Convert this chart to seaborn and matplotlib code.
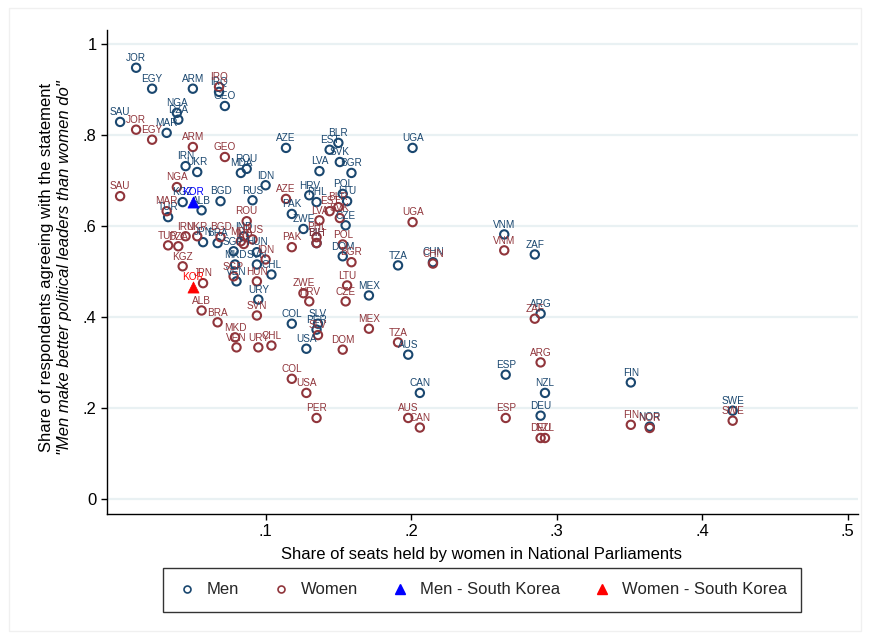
import matplotlib
matplotlib.use("Agg")
import matplotlib.pyplot as plt
import pandas as pd
import seaborn as sns
from matplotlib.lines import Line2D
from matplotlib.patches import Rectangle

# Country codes, share of parliamentary seats held by women, and share of
# men / women agreeing that men make better political leaders
countries = ["JOR", "EGY", "ARM", "IRQ", "GEO", "SAU", "NGA", "DZA", "MAR", "IRN",
             "UKR", "ROU", "MDA", "KGZ", "ALB", "BGD", "RUS", "TUR", "JPN", "BRA",
             "SGP", "MKD", "VEN", "IDN", "HUN", "IND", "CHL", "URY", "SVN", "AZE",
             "PAK", "ZWE", "HRV", "PHL", "BIH", "LVA", "EST", "BLR", "SVK", "BGR",
             "POL", "LTU", "CZE", "DOM", "MEX", "COL", "USA", "PER", "SLV", "UGA",
             "TZA", "CHN", "AUS", "CAN", "VNM", "ZAF", "ARG", "ESP", "NZL", "DEU",
             "FIN", "NOR", "SWE"]
seat_share = [0.011, 0.022, 0.050, 0.068, 0.072, 0.000, 0.039, 0.040, 0.032, 0.045,
              0.053, 0.087, 0.083, 0.043, 0.056, 0.069, 0.091, 0.033, 0.057, 0.067,
              0.078, 0.079, 0.080, 0.100, 0.094, 0.085, 0.104, 0.095, 0.094, 0.114,
              0.118, 0.126, 0.130, 0.135, 0.135, 0.137, 0.144, 0.150, 0.151, 0.159,
              0.153, 0.156, 0.155, 0.153, 0.171, 0.118, 0.128, 0.135, 0.136, 0.201,
              0.191, 0.215, 0.198, 0.206, 0.264, 0.285, 0.289, 0.265, 0.292, 0.289,
              0.351, 0.364, 0.421]
men_agree = [0.947, 0.901, 0.901, 0.894, 0.863, 0.828, 0.848, 0.833, 0.804, 0.731,
             0.718, 0.725, 0.716, 0.652, 0.634, 0.654, 0.656, 0.619, 0.564, 0.562,
             0.544, 0.515, 0.478, 0.689, 0.542, 0.577, 0.493, 0.438, 0.515, 0.771,
             0.626, 0.593, 0.667, 0.652, 0.562, 0.720, 0.767, 0.782, 0.740, 0.716,
             0.670, 0.654, 0.601, 0.533, 0.447, 0.385, 0.330, 0.372, 0.385, 0.771,
             0.513, 0.520, 0.317, 0.233, 0.581, 0.537, 0.407, 0.273, 0.233, 0.183,
             0.256, 0.159, 0.194]
women_agree = [0.811, 0.789, 0.773, 0.905, 0.751, 0.665, 0.685, 0.555, 0.632, 0.577,
               0.577, 0.610, 0.566, 0.511, 0.414, 0.575, 0.570, 0.557, 0.474, 0.388,
               0.489, 0.355, 0.333, 0.526, 0.478, 0.560, 0.337, 0.333, 0.403, 0.659,
               0.553, 0.452, 0.434, 0.575, 0.562, 0.612, 0.632, 0.641, 0.617, 0.520,
               0.559, 0.469, 0.434, 0.328, 0.374, 0.264, 0.233, 0.178, 0.360, 0.608,
               0.344, 0.517, 0.178, 0.157, 0.546, 0.396, 0.300, 0.178, 0.134, 0.134,
               0.163, 0.156, 0.172]

# South Korea, highlighted separately
kor_code = "KOR"
kor_seat_share = 0.050
kor_men = 0.652
kor_women = 0.465

MEN_COLOR = "#1a476f"
WOMEN_COLOR = "#90353b"
GRID_COLOR = "#e9f1f3"

sns.set_theme(style="white")
plt.rcParams["font.family"] = ["Liberation Sans", "DejaVu Sans"]

n = len(countries)
df = pd.DataFrame({
    "iso": countries * 2,
    "seats": seat_share * 2,
    "share": men_agree + women_agree,
    "group": ["Men"] * n + ["Women"] * n,
})
kor = pd.DataFrame({
    "iso": [kor_code, kor_code],
    "seats": [kor_seat_share, kor_seat_share],
    "share": [kor_men, kor_women],
    "group": ["Men - South Korea", "Women - South Korea"],
})

fig = plt.figure(figsize=(8.7, 6.37), dpi=100)
ax = fig.add_axes([0.123, 0.193, 0.863, 0.760])

for yv in [0, 0.2, 0.4, 0.6, 0.8, 1.0]:
    ax.axhline(yv, color=GRID_COLOR, lw=1.6, zorder=0)

colors = {"Men": MEN_COLOR, "Women": WOMEN_COLOR}
for grp, col in colors.items():
    sub = df[df["group"] == grp]
    sns.scatterplot(data=sub, x="seats", y="share", ax=ax, s=36, marker="o",
                    facecolors="none", edgecolor=col, linewidth=1.5,
                    legend=False, zorder=3)
    for _, r in sub.iterrows():
        ax.annotate(r["iso"], (r["seats"], r["share"]), xytext=(0, 3.4),
                    textcoords="offset points", ha="center", va="bottom",
                    fontsize=7.2, color=col, zorder=4)

kor_colors = {"Men - South Korea": "#0000ff", "Women - South Korea": "#ff0000"}
for grp, col in kor_colors.items():
    sub = kor[kor["group"] == grp]
    sns.scatterplot(data=sub, x="seats", y="share", ax=ax, s=64, marker="^",
                    color=col, edgecolor=col, linewidth=0.5, legend=False, zorder=5)
    for _, r in sub.iterrows():
        ax.annotate(r["iso"], (r["seats"], r["share"]), xytext=(0, 4),
                    textcoords="offset points", ha="center", va="bottom",
                    fontsize=7.2, color=col, zorder=6)

ax.set_xlim(-0.009, 0.507)
ax.set_ylim(-0.033, 1.03)
ax.set_xticks([0.1, 0.2, 0.3, 0.4, 0.5])
ax.set_xticklabels([".1", ".2", ".3", ".4", ".5"])
ax.set_yticks([0, 0.2, 0.4, 0.6, 0.8, 1.0])
ax.set_yticklabels(["0", ".2", ".4", ".6", ".8", "1"])
ax.tick_params(axis="both", which="major", direction="out", length=4.5, width=1,
               color="black", labelsize=12, labelcolor="black", pad=3,
               left=True, bottom=True)
for side in ["top", "right"]:
    ax.spines[side].set_visible(False)
for side in ["left", "bottom"]:
    ax.spines[side].set_color("black")
    ax.spines[side].set_linewidth(1.0)
ax.set_xlabel("")
ax.set_ylabel("")

fig.text(482 / 870, 0.130, "Share of seats held by women in National Parliaments",
         ha="center", va="center", fontsize=12, color="black")
fig.text(0.054, 0.58, "Share of respondents agreeing with the statement",
         rotation=90, ha="center", va="center", fontsize=12, color="black")
fig.text(0.074, 0.58, "\"Men make better political leaders than women do\"",
         rotation=90, ha="center", va="center", fontsize=12, color="black",
         style="italic")

handles = [
    Line2D([], [], ls="none", marker="o", markersize=5, markerfacecolor="none",
           markeredgecolor=MEN_COLOR, markeredgewidth=1.2),
    Line2D([], [], ls="none", marker="o", markersize=5, markerfacecolor="none",
           markeredgecolor=WOMEN_COLOR, markeredgewidth=1.2),
    Line2D([], [], ls="none", marker="^", markersize=7, color="#0000ff"),
    Line2D([], [], ls="none", marker="^", markersize=7, color="#ff0000"),
]
labels = ["Men", "Women", "Men - South Korea", "Women - South Korea"]
leg = fig.legend(handles, labels, loc="center", bbox_to_anchor=(482 / 870, 0.074),
                 ncol=4, fontsize=12, frameon=True, fancybox=False,
                 edgecolor="black", handletextpad=0.6, columnspacing=1.9,
                 borderpad=0.85, handlelength=1.2)
leg.get_frame().set_linewidth(1.0)

fig.patches.append(Rectangle((0.01, 0.01), 0.98, 0.978, transform=fig.transFigure,
                             fill=False, edgecolor="#f0f0f0", lw=1))

fig.savefig("out.png", dpi=100)
